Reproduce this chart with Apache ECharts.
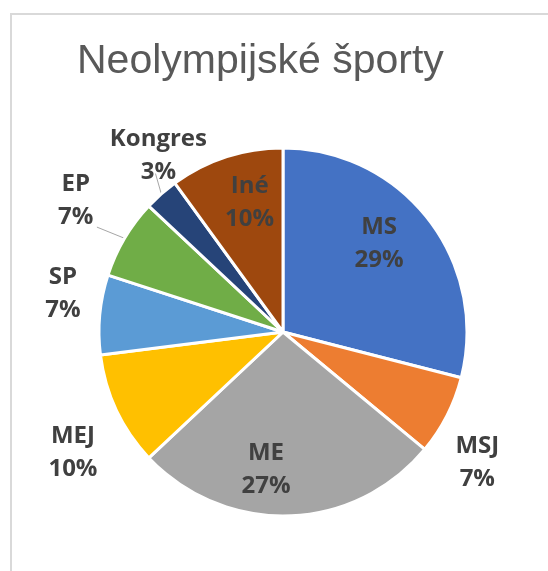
<!DOCTYPE html>
<html>
<head>
<meta charset="utf-8">
<script src="https://cdn.jsdelivr.net/npm/echarts@6/dist/echarts.min.js"></script>
<style>
  html, body { margin: 0; padding: 0; background: #fff; }
  #main { width: 548px; height: 571px; }
</style>
</head>
<body>
<div id="main"></div>
<script>
const categories = ['MS', 'MSJ', 'ME', 'MEJ', 'SP', 'EP', 'Kongres', 'Iné']
const shares = [29, 7, 27, 10, 7, 7, 3, 10]
const colors = ['#4472C4', '#ED7D31', '#A5A5A5', '#FFC000', '#5B9BD5', '#70AD47', '#264478', '#9E480E']
const insideNames = ['MS', 'ME', 'Iné']
const leaderNames = ['EP', 'Kongres']

// small nudges so the labels sit where Excel put them
const labelShift = {
  MS: [21, -30], ME: [-20, 43], 'Iné': [-4, -39],
  MSJ: [-18, 40], MEJ: [5, 36], SP: [13, -20], EP: [-1, -30], Kongres: [42, -27]
}
// where the leader line meets the label box (fraction of its width / height)
const leaderAnchor = { EP: [1.1, 0.9], Kongres: [0.47, 0.77] }

const chart = echarts.init(document.getElementById('main'))

const option = {
  backgroundColor: '#fff',
  animation: false,
  graphic: [{
    type: 'rect',
    shape: { x: 11, y: 14, width: 600, height: 600 },
    style: { fill: 'none', stroke: '#d9d9d9', lineWidth: 2 },
    silent: true
  }],
  title: {
    text: 'Neolympijské športy',
    left: 77,
    top: 41,
    padding: 0,
    textStyle: { fontFamily: 'Liberation Sans', fontSize: 41, fontWeight: 'normal', color: '#595959' }
  },
  series: [{
    type: 'pie',
    center: [283, 332],
    radius: 184,
    startAngle: 90,
    clockwise: true,
    avoidLabelOverlap: false,
    itemStyle: { borderColor: '#fff', borderWidth: 3 },
    label: {
      formatter: '{b}\n{c}%',
      fontFamily: 'Open Sans',
      fontWeight: 'bold',
      fontSize: 24,
      lineHeight: 33,
      color: '#404040'
    },
    labelLine: { show: false, lineStyle: { color: '#a6a6a6', width: 1 } },
    labelLayout: function (p) {
      const name = categories[p.dataIndex]
      const s = labelShift[name]
      const out = { dx: s[0], dy: s[1], align: 'center' }
      const a = leaderAnchor[name]
      if (a && p.labelLinePoints) {
        const r = p.labelRect
        let cx = p.align === 'right' ? r.x + r.width : p.align === 'left' ? r.x : r.x + r.width / 2
        cx += s[0]
        const cy = r.y + r.height / 2 + s[1]
        const end = [cx - r.width / 2 + a[0] * r.width, cy - r.height / 2 + a[1] * r.height]
        out.labelLinePoints = [p.labelLinePoints[0], end]
      }
      return out
    },
    data: categories.map((name, i) => ({
      name: name,
      value: shares[i],
      itemStyle: { color: colors[i] },
      label: { position: insideNames.includes(name) ? 'inside' : 'outside' },
      labelLine: { show: leaderNames.includes(name) }
    }))
  }]
}

chart.setOption(option)
</script>
</body>
</html>
